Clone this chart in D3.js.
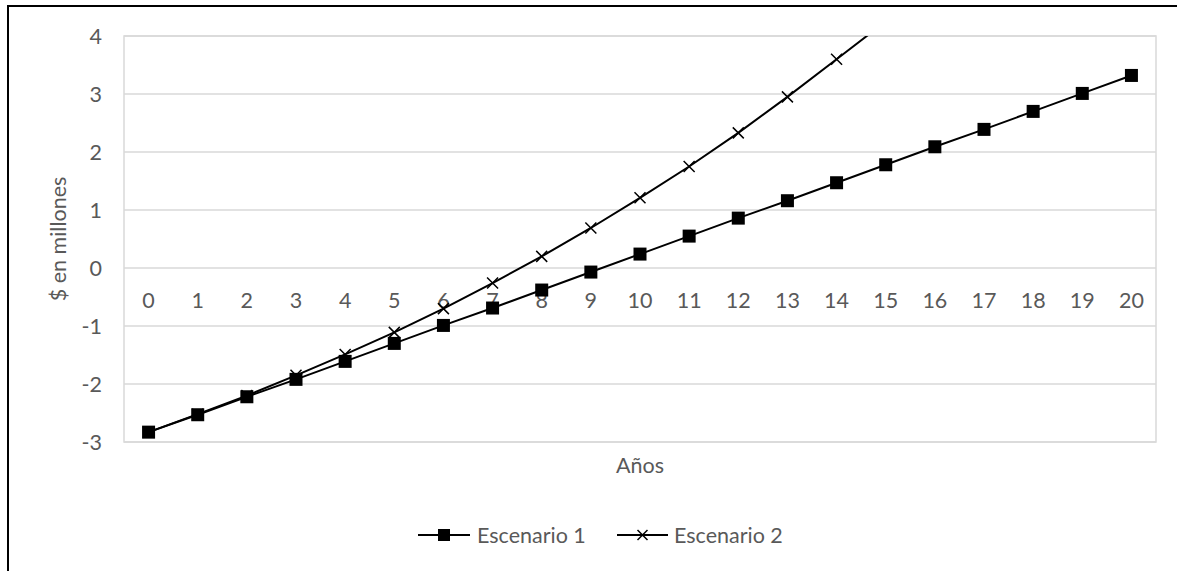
<!DOCTYPE html>
<html>
<head>
<meta charset="utf-8">
<script src="https://cdn.jsdelivr.net/npm/d3@7"></script>
<style>
  html, body { margin: 0; padding: 0; background: #fff; }
  svg { display: block; font-family: Lato, "Open Sans", sans-serif; }
</style>
</head>
<body>
<svg id="chart" width="1177" height="571"></svg>
<script>
// Years on the category axis
const years = d3.range(0, 21).map(String);
// Cash position in millions, scenario 1 (roughly linear)
const escenario1 = [-2.83, -2.53, -2.22, -1.92, -1.61, -1.30, -0.99, -0.69, -0.38, -0.07,
                    0.24, 0.55, 0.86, 1.16, 1.47, 1.78, 2.09, 2.39, 2.70, 3.01, 3.32];
// Scenario 2 grows faster and runs off the top of the axis after year 14
const escenario2 = [-2.83, -2.52, -2.20, -1.85, -1.49, -1.11, -0.70, -0.26, 0.20, 0.69,
                    1.21, 1.75, 2.33, 2.95, 3.60, 4.25];
const yTicks = [-3, -2, -1, 0, 1, 2, 3, 4];

const FONT = 21.5;
const TEXT = "#595959";

const svg = d3.select("#chart");
const plot = { left: 124, right: 1156, top: 36, bottom: 442 };

const x = d3.scaleBand().domain(years).range([plot.left, plot.right]).paddingInner(0).paddingOuter(0);
const y = d3.scaleLinear().domain([-3, 4]).range([plot.bottom, plot.top]);
const cx = d => x(d) + x.bandwidth() / 2;

// Outer chart frame (only the top and left edges fall inside the page)
svg.append("path")
  .attr("d", "M8,571 L8,6 L1177,6")
  .attr("fill", "none").attr("stroke", "#000").attr("stroke-width", 2);

// Horizontal gridlines
svg.append("g").selectAll("line").data(yTicks).join("line")
  .attr("x1", plot.left).attr("x2", plot.right)
  .attr("y1", d => y(d)).attr("y2", d => y(d))
  .attr("stroke", "#d9d9d9").attr("stroke-width", 1.5);

// Plot area border
svg.append("rect")
  .attr("x", plot.left).attr("y", plot.top)
  .attr("width", plot.right - plot.left).attr("height", plot.bottom - plot.top)
  .attr("fill", "none").attr("stroke", "#d9d9d9").attr("stroke-width", 1.5);

// Value axis labels (plain hyphen for negatives)
const yAxis = d3.axisLeft(y).tickValues(yTicks).tickSize(0).tickPadding(0).tickFormat(d => String(d));
svg.append("g").attr("transform", `translate(${plot.left - 22},0)`).call(yAxis)
  .call(g => g.select(".domain").remove())
  .call(g => g.selectAll("text").attr("fill", TEXT).attr("font-size", FONT)
    .attr("font-family", "Lato, 'Open Sans', sans-serif").attr("dy", "0.34em"));

// Category labels sit below the zero line
const xAxis = d3.axisBottom(x).tickSize(0).tickPadding(0);
svg.append("g").attr("transform", `translate(0,${y(0)})`).call(xAxis)
  .call(g => g.select(".domain").remove())
  .call(g => g.selectAll("text").attr("fill", TEXT).attr("font-size", FONT)
    .attr("font-family", "Lato, 'Open Sans', sans-serif").attr("dy", "1.84em"));

// Axis titles
svg.append("text")
  .attr("transform", `translate(66,${(plot.top + plot.bottom) / 2}) rotate(-90)`)
  .attr("text-anchor", "middle").attr("fill", TEXT).attr("font-size", FONT)
  .text("$ en millones");
svg.append("text")
  .attr("x", 640).attr("y", 473)
  .attr("text-anchor", "middle").attr("fill", TEXT).attr("font-size", FONT)
  .text("Años");

// Clip series to the plot area
svg.append("defs").append("clipPath").attr("id", "plotClip")
  .append("rect").attr("x", plot.left).attr("y", plot.top)
  .attr("width", plot.right - plot.left).attr("height", plot.bottom - plot.top);

const line = d3.line().x((d, i) => cx(years[i])).y(d => y(d));
const series = svg.append("g").attr("clip-path", "url(#plotClip)");

// Scenario 1: line with square markers
series.append("path").datum(escenario1).attr("d", line)
  .attr("fill", "none").attr("stroke", "#000").attr("stroke-width", 2);
series.append("g").selectAll("rect").data(escenario1).join("rect")
  .attr("x", (d, i) => cx(years[i]) - 6.5).attr("y", d => y(d) - 6.5)
  .attr("width", 13).attr("height", 13).attr("fill", "#000");

// Scenario 2: line with x markers
series.append("path").datum(escenario2).attr("d", line)
  .attr("fill", "none").attr("stroke", "#000").attr("stroke-width", 2);
const xMark = (cxp, cyp, r) => `M${cxp - r},${cyp - r}L${cxp + r},${cyp + r}M${cxp - r},${cyp + r}L${cxp + r},${cyp - r}`;
series.append("g").selectAll("path").data(escenario2).join("path")
  .attr("d", (d, i) => xMark(cx(years[i]), y(d), 5.5))
  .attr("fill", "none").attr("stroke", "#000").attr("stroke-width", 1.5);

// Legend
const legend = svg.append("g").attr("font-size", FONT).attr("fill", TEXT);
const ly = 535;
legend.append("line").attr("x1", 418).attr("x2", 470).attr("y1", ly).attr("y2", ly)
  .attr("stroke", "#000").attr("stroke-width", 2);
legend.append("rect").attr("x", 438).attr("y", ly - 6).attr("width", 12).attr("height", 12).attr("fill", "#000");
legend.append("text").attr("x", 477).attr("y", ly).attr("dy", "0.35em").text("Escenario 1");
legend.append("line").attr("x1", 617).attr("x2", 668).attr("y1", ly).attr("y2", ly)
  .attr("stroke", "#000").attr("stroke-width", 2);
legend.append("path").attr("d", xMark(642.5, ly, 5)).attr("stroke", "#000").attr("stroke-width", 1.5);
legend.append("text").attr("x", 674).attr("y", ly).attr("dy", "0.35em").text("Escenario 2");
</script>
</body>
</html>
